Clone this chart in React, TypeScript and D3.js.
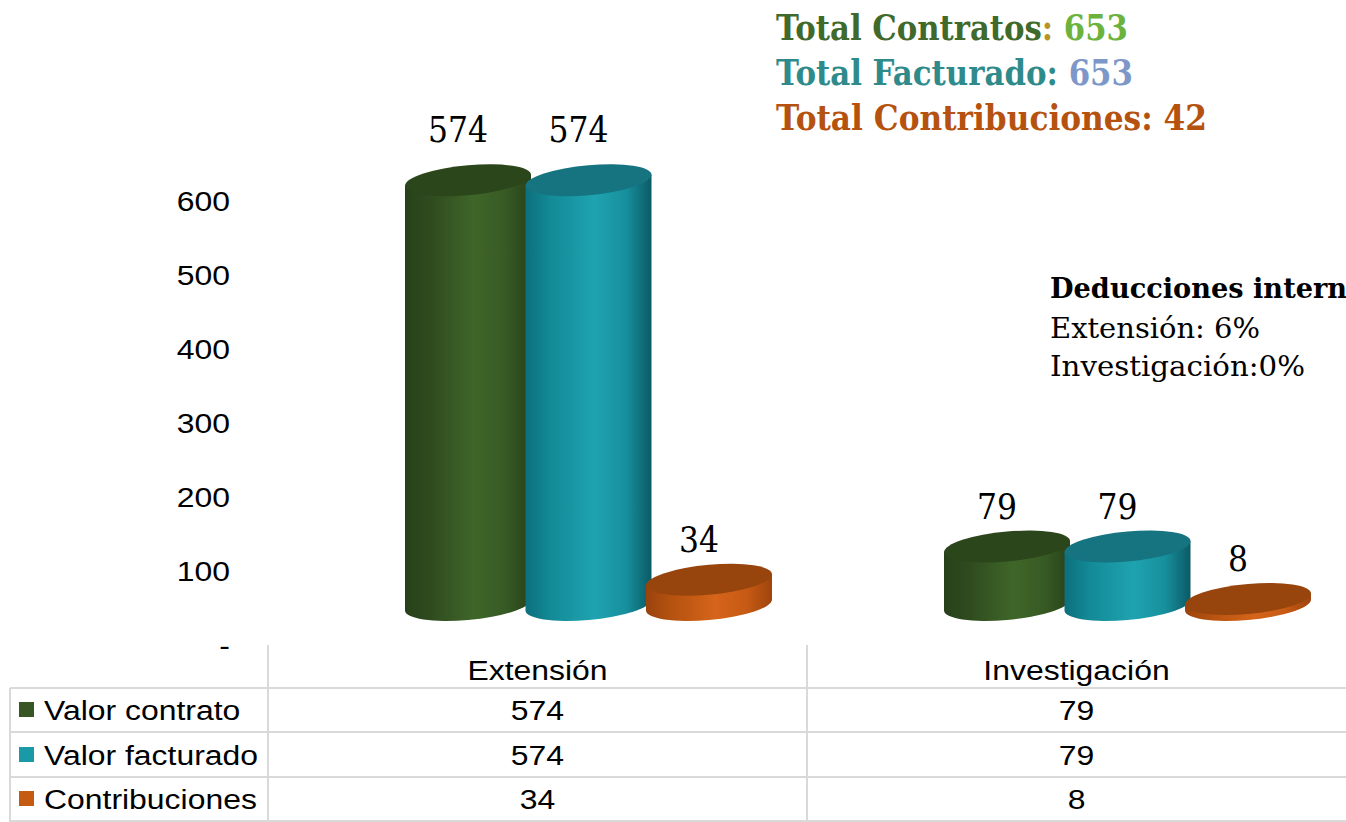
import React from 'react';
import * as d3 from 'd3';

const categories = ['Extensión', 'Investigación'];
const seriesNames = ['Valor contrato', 'Valor facturado', 'Contribuciones'];
const valorContrato = [574, 79];
const valorFacturado = [574, 79];
const contribuciones = [34, 8];
const yTicks = [0, 100, 200, 300, 400, 500, 600];
const totalLabels = ['Total Contratos', 'Total Facturado', 'Total Contribuciones'];
const totalValues = [653, 653, 42];
const deduccionesTitle = 'Deducciones internas';
const deduccionesLines = ['Extensión: 6%', 'Investigación:0%'];

const seriesValues = [valorContrato, valorFacturado, contribuciones];

const W = 1346;
const H = 822;

const palette = [
  { key: 'g', top: '#2c461b', stops: ['#27401a', '#2f4b1e', '#3f6629', '#375a24', '#28411a'], legend: '#375623' },
  { key: 't', top: '#157480', stops: ['#0d6f7c', '#138a97', '#1fa3b0', '#178f9c', '#0b5a66'], legend: '#1a9aa6' },
  { key: 'o', top: '#97450d', stops: ['#9a430e', '#b4520f', '#d6641a', '#c65a14', '#9f440e'], legend: '#c55a11' },
];

const titleColors = [
  { label: '#3f6a2b', colon: '#b99326', value: '#6cb33e' },
  { label: '#2f8b8b', colon: '#2f8b8b', value: '#7d97c9' },
  { label: '#b5520f', colon: '#b5520f', value: '#b5520f' },
];

const SX = 1.14; // horizontal stretch of the original chart
const ARIAL = 'Liberation Sans, Arial, sans-serif';
const SLAB = 'DejaVu Serif, serif';

function SText({ x, y, anchor = 'start', size = 28, children, fill = '#000' }: any) {
  return (
    <g transform={`translate(${x},${y}) scale(${SX},1)`}>
      <text x={0} y={0} textAnchor={anchor} fontFamily={ARIAL} fontSize={size} fill={fill}>
        {children}
      </text>
    </g>
  );
}

export default function App() {
  const x0 = d3.scaleBand<string>().domain(categories).range([268, W]);
  const x1 = d3.scaleBand<string>().domain(seriesNames).range([-180.75, 180.75]);
  const y = d3.scaleLinear().domain([0, 600]).range([645, 201]);
  const depth = 51; // 3D depth shift to the right
  const lift = 40; // 3D depth shift upwards
  const rx = 63;
  const ry = 15;
  const skew = -5;

  const fmt = (v: number) => (v === 0 ? '-' : d3.format('d')(v));

  const cylinders: any[] = [];
  categories.forEach((c, ci) => {
    seriesNames.forEach((s, si) => {
      const v = seriesValues[si][ci];
      const cx = (x0(c) as number) + x0.bandwidth() / 2 + depth + (x1(s) as number) + x1.bandwidth() / 2;
      const yb = y(0) - lift;
      const yt = y(v) - lift;
      cylinders.push({ c, s, si, ci, v, cx, yb, yt });
    });
  });

  const rowYs = [710, 755, 799];
  const gridColor = '#d9d9d9';

  return (
    <svg width={W} height={H} style={{ position: 'absolute', left: 0, top: 0, background: '#fff' }}>
      <defs>
        {palette.map((p) => (
          <linearGradient key={p.key} id={`grad-${p.key}`} x1="0" x2="1" y1="0" y2="0">
            {p.stops.map((col, i) => (
              <stop key={i} offset={[0, 0.2, 0.55, 0.8, 1][i]} stopColor={col} />
            ))}
          </linearGradient>
        ))}
      </defs>

      {/* Titles */}
      {totalLabels.map((lab, i) => (
        <text
          key={lab}
          x={776}
          y={40 + i * 45}
          fontFamily={SLAB}
          fontWeight="bold"
          fontSize={36}
          textLength={[352, 357, 431][i]}
          lengthAdjust="spacingAndGlyphs"
        >
          <tspan fill={titleColors[i].label}>{lab}</tspan>
          <tspan fill={titleColors[i].colon}>:</tspan>
          <tspan fill={titleColors[i].value}>{' ' + totalValues[i]}</tspan>
        </text>
      ))}

      {/* Deducciones */}
      <text x={1050} y={298} fontFamily={SLAB} fontWeight="bold" fontSize={28} textLength={330} lengthAdjust="spacingAndGlyphs">
        {deduccionesTitle}
      </text>
      {deduccionesLines.map((t, i) => (
        <text
          key={t}
          x={1050}
          y={338 + i * 38}
          fontFamily={SLAB}
          fontSize={28}
          textLength={[210, 255][i]}
          lengthAdjust="spacingAndGlyphs"
        >
          {t}
        </text>
      ))}

      {/* Y axis labels */}
      {yTicks.map((t) => (
        <SText key={t} x={230} y={y(t) + 10} anchor="end">
          {fmt(t)}
        </SText>
      ))}

      {/* Cylinders */}
      {cylinders.map((d) => {
        const p = palette[d.si];
        const body = `M${-rx},${d.yt} L${-rx},${d.yb} A${rx},${ry} 0 0 0 ${rx},${d.yb} L${rx},${d.yt} Z`;
        return (
          <g key={`${d.c}-${d.s}`} transform={`translate(${d.cx},0) skewY(${skew})`}>
            <path d={body} fill={`url(#grad-${p.key})`} />
            <ellipse cx={0} cy={d.yt} rx={rx} ry={ry} fill={p.top} />
          </g>
        );
      })}

      {/* Data labels */}
      {cylinders.map((d) => {
        const txt = fmt(d.v);
        return (
          <text
            key={`lab-${d.c}-${d.s}`}
            x={d.cx - 10}
            y={y(d.v) - 68 - (d.v > 300 ? 10 : 0)}
            textAnchor="middle"
            fontFamily={SLAB}
            fontSize={35}
            textLength={txt.length * 20}
            lengthAdjust="spacingAndGlyphs"
            fill="#000"
          >
            {txt}
          </text>
        );
      })}

      {/* Data table */}
      <g stroke={gridColor} strokeWidth={2}>
        <line x1={10} x2={W} y1={688} y2={688} />
        <line x1={10} x2={W} y1={732} y2={732} />
        <line x1={10} x2={W} y1={777} y2={777} />
        <line x1={10} x2={W} y1={821} y2={821} />
        <line x1={10} x2={10} y1={688} y2={822} />
        {categories.map((c) => (
          <line key={c} x1={x0(c) as number} x2={x0(c) as number} y1={645} y2={822} />
        ))}
      </g>
      {categories.map((c) => (
        <SText key={c} x={(x0(c) as number) + x0.bandwidth() / 2} y={680} anchor="middle">
          {c}
        </SText>
      ))}
      {seriesNames.map((s, si) => (
        <g key={s}>
          <rect x={19} y={rowYs[si] - 8} width={15} height={15} fill={palette[si].legend} />
          <SText x={44} y={rowYs[si] + 10}>
            {s}
          </SText>
          {categories.map((c, ci) => (
            <SText key={c} x={(x0(c) as number) + x0.bandwidth() / 2} y={rowYs[si] + 10} anchor="middle">
              {fmt(seriesValues[si][ci])}
            </SText>
          ))}
        </g>
      ))}
    </svg>
  );
}
